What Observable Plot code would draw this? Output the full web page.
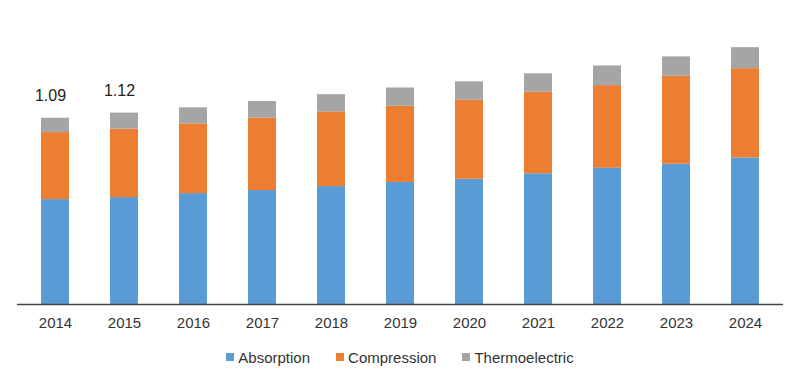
<!DOCTYPE html>
<html>
<head>
<meta charset="utf-8">
<script src="https://cdn.jsdelivr.net/npm/d3@7"></script>
<script src="https://cdn.jsdelivr.net/npm/@observablehq/plot@0.6"></script>
<style>
  html, body { margin: 0; padding: 0; background: #fff; }
  body { width: 800px; height: 378px; overflow: hidden; font-family: "Liberation Sans", Arial, sans-serif; }
  #legend { display: flex; justify-content: center; height: 38px; align-items: center; font-size: 15px; color: #333; margin-top: -2px; }
  #legend .item { display: flex; align-items: center; margin: 0 13px; }
  #legend .sw { width: 8px; height: 8px; margin-right: 4px; }
</style>
</head>
<body>
<div id="chart"></div>
<div id="legend"></div>
<script>
const years = ["2014","2015","2016","2017","2018","2019","2020","2021","2022","2023","2024"];
const seriesNames = ["Absorption","Compression","Thermoelectric"];
const seriesColors = ["#5B9BD5","#ED7D31","#A5A5A5"];
const absorption     = [0.614,0.626,0.649,0.667,0.690,0.714,0.733,0.765,0.797,0.821,0.858];
const compression    = [0.392,0.400,0.408,0.423,0.437,0.446,0.462,0.477,0.484,0.515,0.522];
const thermoelectric = [0.084,0.094,0.094,0.098,0.101,0.107,0.108,0.108,0.115,0.113,0.123];
const labelYears  = ["2014","2015"];
const labelValues = [1.09, 1.12];

const seriesValues = [absorption, compression, thermoelectric];
const data = [];
seriesNames.forEach((s, i) => years.forEach((y, j) => data.push({year: y, series: s, value: seriesValues[i][j]})));
const labels = labelYears.map((y, i) => ({year: y, value: labelValues[i], text: labelValues[i].toFixed(2)}));

const chart = Plot.plot({
  width: 800,
  height: 340,
  marginTop: 13.5,
  marginBottom: 36,
  marginLeft: 17,
  marginRight: 17,
  style: {fontFamily: "'Liberation Sans', Arial, sans-serif", background: "#fff"},
  x: {domain: years, paddingInner: 0.6, paddingOuter: 0.3, label: null},
  y: {domain: [0, 1.7], axis: null},
  color: {domain: seriesNames, range: seriesColors},
  marks: [
    Plot.barY(data, {x: "year", y: "value", fill: "series"}),
    Plot.ruleY([0], {stroke: "#444", strokeWidth: 1.5}),
    Plot.axisX({tickSize: 0, tickPadding: 13, fontSize: 15, fill: "#333", label: null}),
    Plot.text(labels, {x: "year", y: "value", text: "text", dy: -22, dx: -5, fontSize: 16, fill: "#222"})
  ]
});
document.getElementById("chart").appendChild(chart);

const legend = document.getElementById("legend");
seriesNames.forEach((s, i) => {
  const item = document.createElement("div");
  item.className = "item";
  const sw = document.createElement("span");
  sw.className = "sw";
  sw.style.background = seriesColors[i];
  const t = document.createElement("span");
  t.textContent = s;
  item.appendChild(sw); item.appendChild(t);
  legend.appendChild(item);
});
</script>
</body>
</html>
